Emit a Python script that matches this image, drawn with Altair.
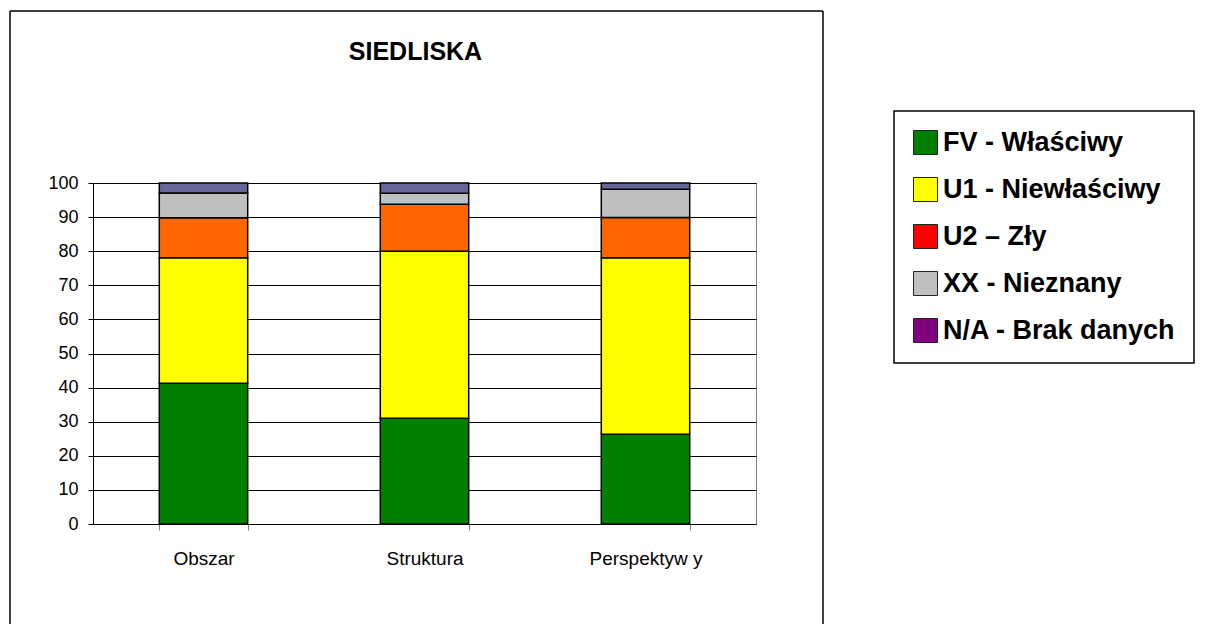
import altair as alt
import pandas as pd

# ---- data ----
categories = ["Obszar", "Struktura", "Perspektyw y"]
series = ["FV - Właściwy", "U1 - Niewłaściwy", "U2 – Zły", "XX - Nieznany", "N/A - Brak danych"]
bar_colors = ["#008000", "#FFFF00", "#FF6600", "#C0C0C0", "#666699"]
legend_colors = ["#008000", "#FFFF00", "#FF0000", "#C0C0C0", "#800080"]
fv = [41.3, 31.0, 26.3]
u1 = [36.8, 49.0, 51.8]
u2 = [11.7, 13.8, 11.8]
xx = [7.3, 3.2, 8.3]
na = [2.9, 3.0, 1.8]
y_ticks = [0, 10, 20, 30, 40, 50, 60, 70, 80, 90, 100]
title_text = "SIEDLISKA"

rows = []
for si, (s, vals) in enumerate(zip(series, [fv, u1, u2, xx, na])):
    for c, v in zip(categories, vals):
        rows.append({"kategoria": c, "seria": s, "wartosc": v, "kolejnosc": si})
df = pd.DataFrame(rows)

FONT = "Liberation Sans"

bars = alt.Chart(df).mark_bar(stroke="black", strokeWidth=1.5).encode(
    x=alt.X(
        "kategoria:N",
        sort=categories,
        scale=alt.Scale(paddingInner=0.6, paddingOuter=0.3),
        axis=alt.Axis(
            title=None, labelAngle=0, grid=False, tickBand="extent",
            labelFont=FONT, labelFontSize=19, labelColor="black",
            labelPadding=19, tickSize=6, tickColor="#808080",
            domainColor="black", domainWidth=1,
        ),
    ),
    y=alt.Y(
        "wartosc:Q",
        stack="zero",
        scale=alt.Scale(domain=[0, 100], nice=False),
        axis=alt.Axis(
            title=None, values=y_ticks, grid=True, gridColor="black", gridWidth=1,
            labelFont=FONT, labelFontSize=18, labelColor="black",
            labelPadding=10, tickSize=5, tickColor="black",
            domainColor="black", domainWidth=1,
        ),
    ),
    color=alt.Color("seria:N", scale=alt.Scale(domain=series, range=bar_colors), legend=None),
    order=alt.Order("kolejnosc:Q", sort="ascending"),
)

leg_df = pd.DataFrame({"seria": series})
legend_layer = alt.Chart(leg_df).transform_filter("false").mark_square(
    filled=True, stroke="black", strokeWidth=1, opacity=1
).encode(
    color=alt.Color(
        "seria:N",
        scale=alt.Scale(domain=series, range=legend_colors),
        legend=alt.Legend(
            title=None, orient="none", legendX=801, legendY=-72,
            padding=18, strokeColor="black",
            labelFont=FONT, labelFontSize=27, labelFontWeight="bold", labelColor="black",
            labelLimit=500, labelOffset=4,
            symbolType="square", symbolSize=576, symbolStrokeWidth=1,
            symbolStrokeColor="#222222", symbolOpacity=1, rowPadding=18,
        ),
    )
)

one = pd.DataFrame({"k": [0]})
frame_left = alt.Chart(one).mark_rule(color="black", strokeWidth=1.5).encode(
    x=alt.value(-83), y=alt.value(-172), y2=alt.value(441))
frame_top = alt.Chart(one).mark_rule(color="black", strokeWidth=1.5).encode(
    x=alt.value(-83), x2=alt.value(730), y=alt.value(-172))
frame_right = alt.Chart(one).mark_rule(color="black", strokeWidth=1.5).encode(
    x=alt.value(730), y=alt.value(-172), y2=alt.value(441))

chart = alt.layer(frame_left, frame_top, frame_right, bars, legend_layer).resolve_scale(
    color="independent"
).properties(
    width=663,
    height=341,
    title=alt.TitleParams(
        title_text, font=FONT, fontSize=25, fontWeight="bold", color="black",
        anchor="middle", dx=-9, offset=-75, baseline="alphabetic",
    ),
    autosize=alt.AutoSizeParams(type="none"),
    padding={"left": 85, "top": 175, "right": 443, "bottom": 100},
).configure_view(
    stroke="#808080", strokeWidth=1
).configure_legend(
    strokeWidth=1.5
)

chart.save("out.html", embed_options={"renderer": "svg", "actions": False})
